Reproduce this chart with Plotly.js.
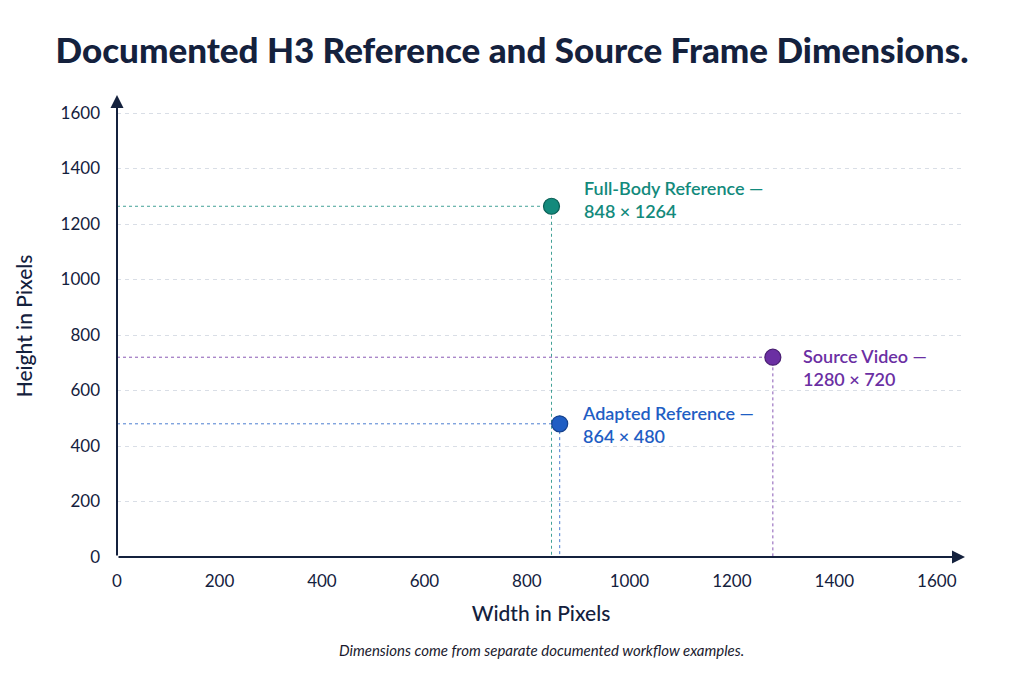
<!DOCTYPE html>
<html>
<head>
<meta charset="utf-8">
<script src="https://cdn.plot.ly/plotly-3.0.1.min.js"></script>
<style>
  html, body { margin: 0; padding: 0; background: #fff; }
  #chart { width: 1024px; height: 683px; }
</style>
</head>
<body>
<div id="chart"></div>
<script>
// ----------------------------- Data ------------------------------------------
var names = ["Full-Body Reference", "Adapted Reference", "Source Video"];
var widths = [848, 864, 1280];
var heights = [1264, 480, 720];
var colors = ["#138a7c", "#1f5ec4", "#6b2fa3"];
var edgeColors = ["#0b5e55", "#15418c", "#4a1f73"];
var labelShiftX = [30, 20, 28];
var labelShiftY = [7, -1, -10];
var tickVals = [0, 200, 400, 600, 800, 1000, 1200, 1400, 1600];
// =============================================================================

var navy = "#14213d";
var xMax = 1655;
var yMax = 1665;

var data = [];
var annotations = [];

// dashed guide lines from each axis to the point
for (var i = 0; i < names.length; i++) {
  data.push({
    x: [0, widths[i], widths[i]],
    y: [heights[i], heights[i], 0],
    mode: "lines",
    line: { color: colors[i], width: 1, dash: "3px,3px" },
    opacity: 0.8,
    showlegend: false,
    hoverinfo: "none"
  });
}

// the points themselves
for (var i = 0; i < names.length; i++) {
  data.push({
    x: [widths[i]],
    y: [heights[i]],
    mode: "markers",
    marker: { color: colors[i], size: 16, line: { color: edgeColors[i], width: 1.2 } },
    name: names[i],
    showlegend: false,
    hoverinfo: "name+x+y"
  });
  annotations.push({
    x: widths[i], y: heights[i], xref: "x", yref: "y",
    text: names[i] + " \u2014<br>" + widths[i] + " \u00d7 " + heights[i],
    showarrow: false,
    xanchor: "left", yanchor: "middle", align: "left",
    xshift: labelShiftX[i], yshift: labelShiftY[i],
    font: { family: "Lato, 'Open Sans', sans-serif", size: 18, color: colors[i], weight: 600 }
  });
}

// axis arrows
annotations.push({
  x: xMax, y: 0, ax: 0, ay: 0, xref: "x", yref: "y", axref: "x", ayref: "y",
  text: "", showarrow: true, arrowhead: 2, arrowsize: 1.3, arrowwidth: 2, arrowcolor: navy
});
annotations.push({
  x: 0, y: yMax, ax: 0, ay: 0, xref: "x", yref: "y", axref: "x", ayref: "y",
  text: "", showarrow: true, arrowhead: 2, arrowsize: 1.3, arrowwidth: 2, arrowcolor: navy
});

// caption
annotations.push({
  x: 0.5, y: 0, xref: "paper", yref: "paper", yshift: -93,
  text: "<i>Dimensions come from separate documented workflow examples.</i>",
  showarrow: false, xanchor: "center", yanchor: "middle",
  font: { family: "Lato, sans-serif", size: 15, color: "#1a1a2e" }
});

var layout = {
  width: 1024,
  height: 683,
  paper_bgcolor: "#ffffff",
  plot_bgcolor: "#ffffff",
  margin: { l: 117, r: 59, t: 95, b: 126 },
  font: { family: "Lato, 'Open Sans', sans-serif", color: navy },
  title: {
    text: "Documented H3 Reference and Source Frame Dimensions.",
    x: 0.5, xanchor: "center", y: 0.925, yanchor: "middle",
    font: { family: "Lato, sans-serif", size: 35, color: navy, weight: 900 }
  },
  xaxis: {
    range: [0, xMax],
    tickvals: tickVals,
    showgrid: false,
    zeroline: false,
    showline: false,
    ticks: "",
    ticklabelstandoff: 12,
    tickfont: { size: 17, color: navy },
    title: { text: "Width in Pixels", font: { size: 21, color: navy, weight: 500 }, standoff: 16 }
  },
  yaxis: {
    range: [0, yMax],
    tickvals: tickVals,
    showgrid: true,
    gridcolor: "#d9dee6",
    griddash: "4px,4px",
    gridwidth: 1,
    zeroline: false,
    showline: false,
    ticks: "",
    ticklabelstandoff: 16,
    tickfont: { size: 17, color: navy },
    title: { text: "Height in Pixels", font: { size: 21, color: navy, weight: 500 }, standoff: 22 }
  },
  annotations: annotations
};

Plotly.newPlot("chart", data, layout, { displayModeBar: false, staticPlot: true });
</script>
</body>
</html>
